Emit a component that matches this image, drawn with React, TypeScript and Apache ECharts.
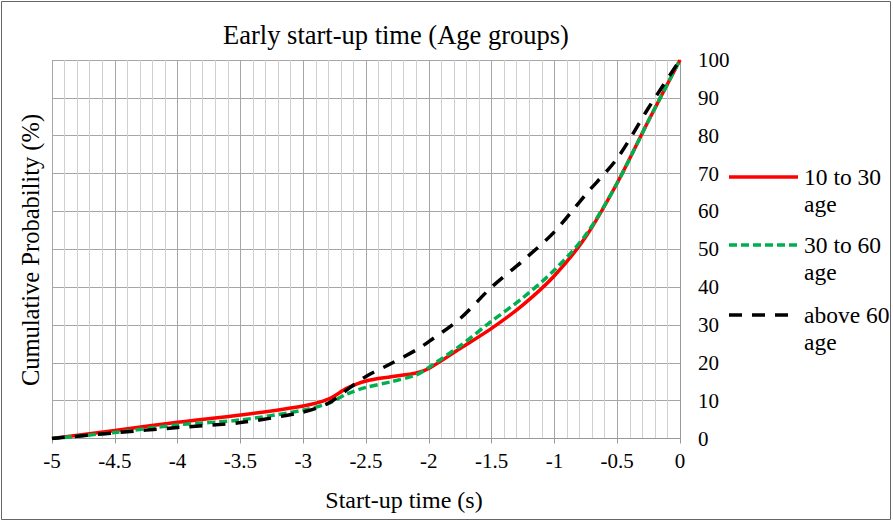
import React, { useEffect, useRef } from "react";
import * as echarts from "echarts";

const TITLE = "Early start-up time (Age groups)";
const X_NAME = "Start-up time (s)";
const Y_NAME = "Cumulative Probability (%)";

const xs = [-5, -4.5, -4, -3.5, -3, -2.8, -2.65, -2.5, -2.3, -2.1, -2, -1.75, -1.5, -1.25, -1, -0.75, -0.5, -0.25, 0];
const age10to30 = [0, 2.1, 4.3, 6.2, 8.6, 10.4, 13.3, 15.2, 16.3, 17.3, 18.5, 23.8, 29.1, 35.3, 43.0, 53.3, 67.5, 84, 100];
const age30to60 = [0, 1.6, 3.6, 4.9, 7.5, 9.3, 11.8, 13.5, 15.0, 16.8, 18.8, 24.5, 31.0, 37.2, 44.5, 53.8, 67.5, 84, 100];
const ageAbove60 = [0, 1.5, 2.9, 4.2, 7.0, 9.3, 12.9, 16.4, 19.8, 23.4, 25.6, 31.7, 40.0, 47.0, 54.6, 64.5, 74.0, 87.4, 100];

const seriesNames = ["10 to 30 age", "30 to 60 age", "above 60 age"];
const legendLabels = ["10 to 30\nage", "30 to 60\nage", "above 60\nage"];

const FONT = "Liberation Serif";

export default function App() {
  const ref = useRef<HTMLDivElement>(null);
  useEffect(() => {
    document.body.style.margin = "0";
    if (!ref.current) return;
    const chart = echarts.init(ref.current, null, { renderer: "svg" });
    const pairs = (ys: number[]) => xs.map((x, i) => [x, ys[i]]);
    const colors = ["#ff0000", "#00b050", "#000000"];
    const dashes: any[] = ["solid", [8, 4], [13, 10]];
    const legendY = [177, 245, 315];
    const txt = (size: number) => ({ fontFamily: FONT, fontSize: size, fill: "#000" });
    const graphic: any[] = [
      {
        type: "rect",
        shape: { x: 1.5, y: 1.5, width: 889, height: 518 },
        style: { fill: "none", stroke: "#666", lineWidth: 1 },
        silent: true,
      },
      {
        type: "text",
        x: 396,
        y: 35,
        style: { ...txt(26.5), text: TITLE, textAlign: "center", textVerticalAlign: "middle" },
      },
      {
        type: "text",
        x: 404,
        y: 500,
        style: { ...txt(24), text: X_NAME, textAlign: "center", textVerticalAlign: "middle" },
      },
      {
        type: "text",
        x: 30,
        y: 250,
        rotation: Math.PI / 2,
        style: { ...txt(24.5), text: Y_NAME, textAlign: "center", textVerticalAlign: "middle" },
      },
    ];
    legendLabels.forEach((lab, i) => {
      graphic.push({
        type: "line",
        shape: { x1: 729, y1: legendY[i], x2: 798, y2: legendY[i] },
        style: { stroke: colors[i], lineWidth: 3.5, lineDash: dashes[i] === "solid" ? null : dashes[i] },
      });
      graphic.push({
        type: "text",
        x: 804,
        y: legendY[i] - 13.5,
        style: { ...txt(23.5), text: lab, textAlign: "left", textVerticalAlign: "top", lineHeight: 27 },
      });
    });

    chart.setOption({
      animation: false,
      backgroundColor: "#fff",
      textStyle: { fontFamily: FONT },
      grid: { left: 52, top: 60, width: 628, height: 378.5 },
      xAxis: {
        type: "value",
        min: -5,
        max: 0,
        interval: 0.5,
        position: "bottom",
        axisLine: { show: true, onZero: false, lineStyle: { color: "#999", width: 1 } },
        axisTick: { show: true, length: 5, lineStyle: { color: "#999" } },
        axisLabel: { fontFamily: FONT, fontSize: 21, color: "#000", margin: 12 },
        splitLine: { show: true, lineStyle: { color: "#a6a6a6", width: 1 } },
        minorTick: { show: false, splitNumber: 5 },
        minorSplitLine: { show: true, lineStyle: { color: "#d0d0d0", width: 1 } },
      },
      yAxis: {
        type: "value",
        min: 0,
        max: 100,
        interval: 10,
        position: "right",
        axisLine: { show: true, lineStyle: { color: "#999", width: 1 } },
        axisTick: { show: false },
        axisLabel: {
          fontFamily: FONT,
          fontSize: 21,
          color: "#000",
          margin: 18,
          formatter: (v: number) => String(v),
        },
        splitLine: { show: true, lineStyle: { color: "#a6a6a6", width: 1 } },
      },
      graphic,
      series: [age10to30, age30to60, ageAbove60].map((ys, i) => ({
        name: seriesNames[i],
        type: "line",
        data: pairs(ys),
        smooth: 0.3,
        showSymbol: false,
        symbol: "none",
        lineStyle: { color: colors[i], width: 3.5, type: dashes[i] },
        itemStyle: { color: colors[i] },
        z: 2 + i,
      })),
    });
    return () => chart.dispose();
  }, []);
  return <div ref={ref} style={{ width: 893, height: 522 }} />;
}
